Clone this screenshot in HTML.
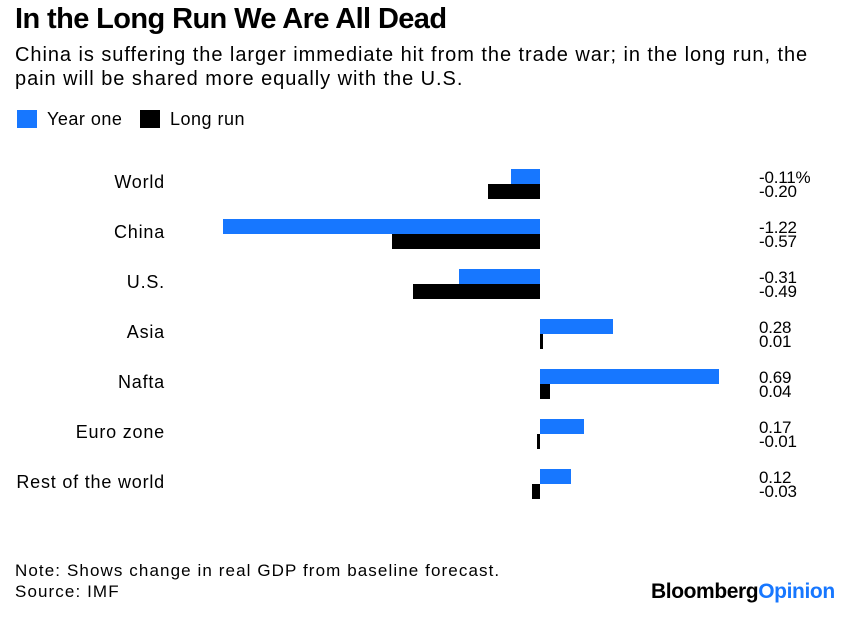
<!DOCTYPE html>
<html><head><meta charset="utf-8"><style>
body{margin:0;width:844px;height:620px;background:#fff;font-family:"Liberation Sans",Arial,sans-serif;color:#000;position:relative;overflow:hidden}
.a{position:absolute;white-space:nowrap}
.b{position:absolute;height:15px}
.bl{background:#1777ff}.bk{background:#000}
.lab{position:absolute;font-size:18px;letter-spacing:0.8px;white-space:nowrap}
.v{position:absolute;left:759px;font-size:17px;line-height:14px;letter-spacing:-0.2px}
</style></head><body>
<div class="a" style="left:15px;top:3px;font-size:29px;font-weight:bold;letter-spacing:-0.6px">In the Long Run We Are All Dead</div>
<div class="a" style="left:15px;top:43px;font-size:20px;line-height:24px;letter-spacing:0.95px">China is suffering the larger immediate hit from the trade war; in the long run, the<br>pain will be shared more equally with the U.S.</div>
<div class="a" style="left:17px;top:110px;width:20px;height:18px;background:#1777ff"></div>
<div class="a" style="left:47px;top:109px;font-size:18px;letter-spacing:0.5px">Year one</div>
<div class="a" style="left:140px;top:110px;width:20px;height:18px;background:#000"></div>
<div class="a" style="left:170px;top:109px;font-size:18px;letter-spacing:0.5px">Long run</div>
<div id="c"></div>
<div class="a" style="left:15px;top:560px;font-size:17px;line-height:21px;letter-spacing:1.1px">Note: Shows change in real GDP from baseline forecast.<br>Source: IMF</div>
<div class="a" style="left:651px;top:580px;font-size:21px;font-weight:bold;letter-spacing:-0.4px">Bloomberg<span style="color:#1777ff">Opinion</span></div>
<script>
var d=[["World",-0.11,-0.20,"-0.11%","-0.20"],["China",-1.22,-0.57,"-1.22","-0.57"],["U.S.",-0.31,-0.49,"-0.31","-0.49"],["Asia",0.28,0.01,"0.28","0.01"],["Nafta",0.69,0.04,"0.69","0.04"],["Euro zone",0.17,-0.01,"0.17","-0.01"],["Rest of the world",0.12,-0.03,"0.12","-0.03"]];
var z=540,s=260,h="";
d.forEach(function(r,i){var t=169+50*i;
function bar(v,y,c){var w=Math.max(2,Math.abs(v)*s);var l=v<0?z-w:z;h+='<div class="b '+c+'" style="left:'+l+'px;top:'+y+'px;width:'+w+'px"></div>';}
bar(r[1],t,"bl");bar(r[2],t+15,"bk");
h+='<div class="lab" style="top:'+(t+3)+'px;right:679px">'+r[0]+'</div>';
h+='<div class="v" style="top:'+(t+2)+'px">'+r[3]+'<br>'+r[4]+'</div>';});
document.getElementById("c").innerHTML=h;
</script>
</body></html>
